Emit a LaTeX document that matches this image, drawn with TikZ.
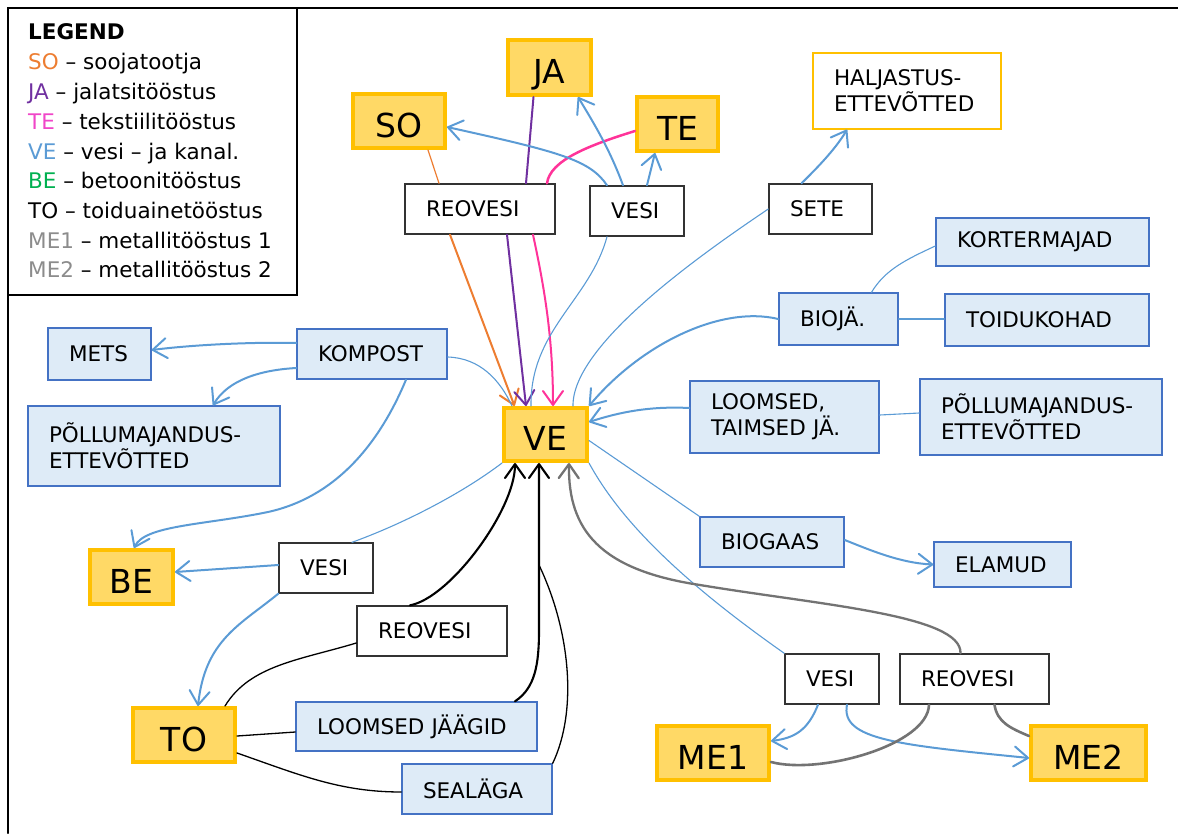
\documentclass[tikz,border=0pt]{standalone}
\usepackage{fontspec}
\setmainfont{DejaVu Sans}
\usetikzlibrary{arrows.meta}
\definecolor{gold}{HTML}{FFC000}
\definecolor{yfill}{HTML}{FFD966}
\definecolor{lblue}{HTML}{DEEBF7}
\definecolor{bborder}{HTML}{4472C4}
\definecolor{bline}{HTML}{5B9BD5}
\definecolor{corange}{HTML}{ED7D31}
\definecolor{cpurple}{HTML}{7030A0}
\definecolor{cpink}{HTML}{FF3399}
\definecolor{cmag}{HTML}{F046C8}
\definecolor{cgreen}{HTML}{00B050}
\definecolor{cgray}{HTML}{8C8C8C}
\definecolor{dgray}{HTML}{737373}
\newcommand{\fsn}{\fontsize{21.5}{26}\selectfont}
\newcommand{\fsb}{\fontsize{33}{38}\selectfont}
\begin{document}
\begin{tikzpicture}[x=1pt,y=-1pt,line cap=round,
 ybox/.style={draw=gold, line width=4pt, fill=yfill, font=\fsb, inner sep=0pt, text height=32pt, text depth=0pt},
 tbox/.style={line width=1.4pt, font=\fsn, align=left, inner xsep=21pt, inner ysep=0pt},
 wbox/.style={tbox, draw=black!80, fill=white},
 bbox/.style={tbox, draw=bborder, fill=lblue},
 leg/.style={font=\fsn, anchor=base west, inner sep=0pt},
 tip/.style={-{Straight Barb[length=14pt,width=20pt,round]}},
 bthin/.style={draw=bline, line width=1.1pt},
 barr/.style={draw=bline, line width=2pt, tip},
 garr/.style={draw=dgray, line width=2.3pt, tip},
 gthick/.style={draw=dgray, line width=2.6pt},
 karr/.style={draw=black, line width=2.1pt, tip},
 kthin/.style={draw=black, line width=1.3pt}
]
\useasboundingbox (0,0) rectangle (1178,833);
% frame and legend
\draw[line width=2.2pt] (8,833) -- (8,8) -- (1178,8);
\draw[line width=1.5pt] (8,8) rectangle (297,295);
\node[leg] (lg0) at (28,39) {\textbf{LEGEND}};
\node[leg] (lg1) at (28,69) {\textcolor{corange}{SO} – soojatootja};
\node[leg] (lg2) at (28,99) {\textcolor{cpurple}{JA} – jalatsitööstus};
\node[leg] (lg3) at (28,129) {\textcolor{cmag}{TE} – tekstiilitööstus};
\node[leg] (lg4) at (28,159) {\textcolor{bline}{VE} – vesi – ja kanal.};
\node[leg] (lg5) at (28,188) {\textcolor{cgreen}{BE} – betoonitööstus};
\node[leg] (lg6) at (28,218) {TO – toiduainetööstus};
\node[leg] (lg7) at (28,248) {\textcolor{cgray}{ME1} – metallitööstus 1};
\node[leg] (lg8) at (28,277) {\textcolor{cgray}{ME2} – metallitööstus 2};
% yellow nodes
\node[ybox, minimum width=92pt, minimum height=54pt] (SO) at (399,121) {SO};
\node[ybox, minimum width=83pt, minimum height=55pt] (JA) at (549.5,67.5) {JA};
\node[ybox, minimum width=81pt, minimum height=54pt] (TE) at (677.5,124) {TE};
\node[ybox, minimum width=83pt, minimum height=53pt] (VE) at (545.5,434.5) {VE};
\node[ybox, minimum width=83pt, minimum height=54pt] (BE) at (131.5,577) {BE};
\node[ybox, minimum width=102pt, minimum height=54pt] (TO) at (184,735) {TO};
\node[ybox, minimum width=112pt, minimum height=54pt] (ME1) at (713,753) {ME1};
\node[ybox, minimum width=115pt, minimum height=54pt] (ME2) at (1088.5,753) {ME2};
% text boxes
\node[wbox, text width=108pt, minimum height=50pt] (RT) at (480,209) {REOVESI};
\node[wbox, text width=52pt, minimum height=50pt] (VT) at (637,211) {VESI};
\node[wbox, text width=61pt, minimum height=50pt] (SE) at (820.5,209) {SETE};
\node[tbox, draw=gold, fill=white, line width=1.2pt, text width=146pt, minimum height=76pt] (HA) at (907,91) {HALJASTUS-\\ETTEVÕTTED};
\node[bbox, text width=171pt, minimum height=48pt] (KO) at (1042.5,242) {KORTERMAJAD};
\node[bbox, text width=77pt, minimum height=52pt] (BI) at (838.5,319) {BIOJÄ.};
\node[bbox, text width=162pt, minimum height=52pt] (TD) at (1047,320) {TOIDUKOHAD};
\node[bbox, text width=147pt, minimum height=72pt] (LT) at (784.5,417) {LOOMSED,\\TAIMSED JÄ.};
\node[bbox, text width=200pt, minimum height=76pt] (PR) at (1041,417) {PÕLLUMAJANDUS-\\ETTEVÕTTED};
\node[bbox, text width=102pt, minimum height=50pt] (BG) at (772,542) {BIOGAAS};
\node[bbox, text width=95pt, minimum height=45pt] (EL) at (1002.5,564.5) {ELAMUD};
\node[bbox, text width=61pt, minimum height=52pt] (MT) at (99.5,354) {METS};
\node[bbox, text width=108pt, minimum height=50pt] (KP) at (372,354) {KOMPOST};
\node[bbox, text width=210pt, minimum height=80pt] (PL) at (154,446) {PÕLLUMAJANDUS-\\ETTEVÕTTED};
\node[wbox, text width=52pt, minimum height=50pt] (VL) at (326,568) {VESI};
\node[wbox, text width=108pt, minimum height=50pt] (RL) at (432,631) {REOVESI};
\node[bbox, text width=199pt, minimum height=49pt] (LJ) at (416.5,726.5) {LOOMSED JÄÄGID};
\node[bbox, text width=108pt, minimum height=50pt] (SG) at (477,789) {SEALÄGA};
\node[wbox, text width=52pt, minimum height=50pt] (VB) at (832,679) {VESI};
\node[wbox, text width=107pt, minimum height=50pt] (R3) at (974.5,679) {REOVESI};
\coordinate (jn) at (539,565);
\coordinate (bend) at (539,630);
\coordinate (kb) at (268,512);
% top connectors
\draw[draw=corange, line width=1.2pt] ([xshift=29pt]SO.south) -- ([xshift=-41pt]RT.north);
\draw[draw=corange, line width=2pt, tip] ([xshift=-30pt]RT.south) -- ([xshift=-31pt]VE.north);
\draw[draw=cpurple, line width=2pt] ([xshift=-16pt]JA.south) -- ([xshift=46pt]RT.north);
\draw[draw=cpurple, line width=2pt, tip] ([xshift=27pt]RT.south) -- ([xshift=-19.5pt]VE.north);
\draw[draw=cpink, line width=2.5pt] ([yshift=-7pt]TE.west) .. controls (590,145) and (550,160) .. ([xshift=67pt]RT.north);
\draw[draw=cpink, line width=2pt, tip] ([xshift=53pt]RT.south) .. controls (545,290) and (553,340) .. ([xshift=7.5pt]VE.north);
\draw[barr] ([xshift=-30pt]VT.north) .. controls (590,160) and (560,152) .. ([yshift=-6pt]SO.east);
\draw[barr] ([xshift=-14pt]VT.north) .. controls (610,150) and (595,125) .. ([xshift=28.5pt]JA.south);
\draw[barr] ([xshift=10pt]VT.north) -- ([xshift=-22.5pt]TE.south);
\draw[bthin] ([xshift=-30pt]VT.south) .. controls (590,300) and (530,330) .. ([xshift=-14.5pt]VE.north);
\draw[barr] ([xshift=-19pt]SE.north) .. controls (815,170) and (835,150) .. ([xshift=-60pt]HA.south);
\draw[bthin] (SE.west) .. controls (700,255) and (572,345) .. ([xshift=27.5pt]VE.north);
% right connectors
\draw[barr] (BI.west) .. controls (720,305) and (640,345) .. (VE.north east);
\draw[bthin] ([yshift=-4pt]KO.west) .. controls (905,260) and (885,270) .. ([xshift=33pt]BI.north);
\draw[bthin] (BI.east) -- (BI.east -| TD.west);
\draw[barr] ([yshift=9pt]LT.west) .. controls (650,406) and (620,412) .. ([yshift=12.5pt]VE.east);
\draw[bthin] ([yshift=2pt]LT.east) -- ([yshift=4pt]PR.west);
\draw[bthin] ([yshift=-6pt]VE.east) -- (BG.north west);
\draw[barr] ([yshift=2pt]BG.east) .. controls (870,550) and (900,563) .. (EL.west);
\draw[bthin] (VE.south east) .. controls (620,520) and (680,580) .. (VB.north west);
\draw[garr] ([xshift=-14pt]R3.north) .. controls (962,615) and (820,605) .. (700,585) .. controls (600,570) and (568,530) .. ([xshift=23.5pt]VE.south);
\draw[barr] ([xshift=-14pt]VB.south) .. controls (808,730) and (795,738) .. ([yshift=12pt]ME1.east);
\draw[barr] ([xshift=15pt]VB.south) .. controls (840,740) and (900,745) .. ([yshift=-5pt]ME2.west);
\draw[gthick] ([xshift=-45.5pt]R3.south) .. controls (928,745) and (820,775) .. ([yshift=-9pt]ME1.east);
\draw[gthick] ([xshift=20pt]R3.south) .. controls (997,722) and (1010,728) .. ([yshift=17pt]ME2.west);
% left connectors
\draw[barr] ([yshift=11pt]KP.west) .. controls (260,342) and (200,344) .. ([yshift=4pt]MT.east);
\draw[barr] ([yshift=-14pt]KP.west) .. controls (260,370) and (228,380) .. ([xshift=59pt]PL.north);
\draw[barr] ([xshift=34pt]KP.south) .. controls (385,430) and (345,495) .. (kb) .. controls (205,525) and (145,525) .. ([xshift=2.5pt]BE.north);
\draw[bthin] ([yshift=-3pt]KP.east) .. controls (480,358) and (500,380) .. ([xshift=-33.5pt]VE.north);
\draw[bthin] (VE.south west) .. controls (460,495) and (400,525) .. ([xshift=26pt]VL.north);
\draw[barr] ([yshift=3pt]VL.west) -- ([yshift=5pt]BE.east);
\draw[barr] (VL.south west) .. controls (240,625) and (205,640) .. ([xshift=14pt]TO.north);
\draw[karr] ([xshift=-22pt]RL.north) .. controls (450,598) and (515,510) .. ([xshift=-30.5pt]VE.south);
\draw[kthin] ([yshift=-12pt]RL.west) .. controls (300,660) and (250,665) .. ([xshift=41pt]TO.north);
\draw[karr] ([xshift=98.5pt]LJ.north) .. controls (535,688) and (539,665) .. (bend) -- ([xshift=-6.5pt]VE.south);
\draw[kthin] ([yshift=-1pt]TO.east) -- ([yshift=-5.5pt]LJ.west);
\draw[kthin] ([yshift=-18pt]TO.east) .. controls (300,775) and (340,792) .. ([yshift=-3pt]SG.west);
\draw[kthin] (SG.north east) .. controls (578,710) and (570,630) .. (jn);
\end{tikzpicture}
\end{document}
